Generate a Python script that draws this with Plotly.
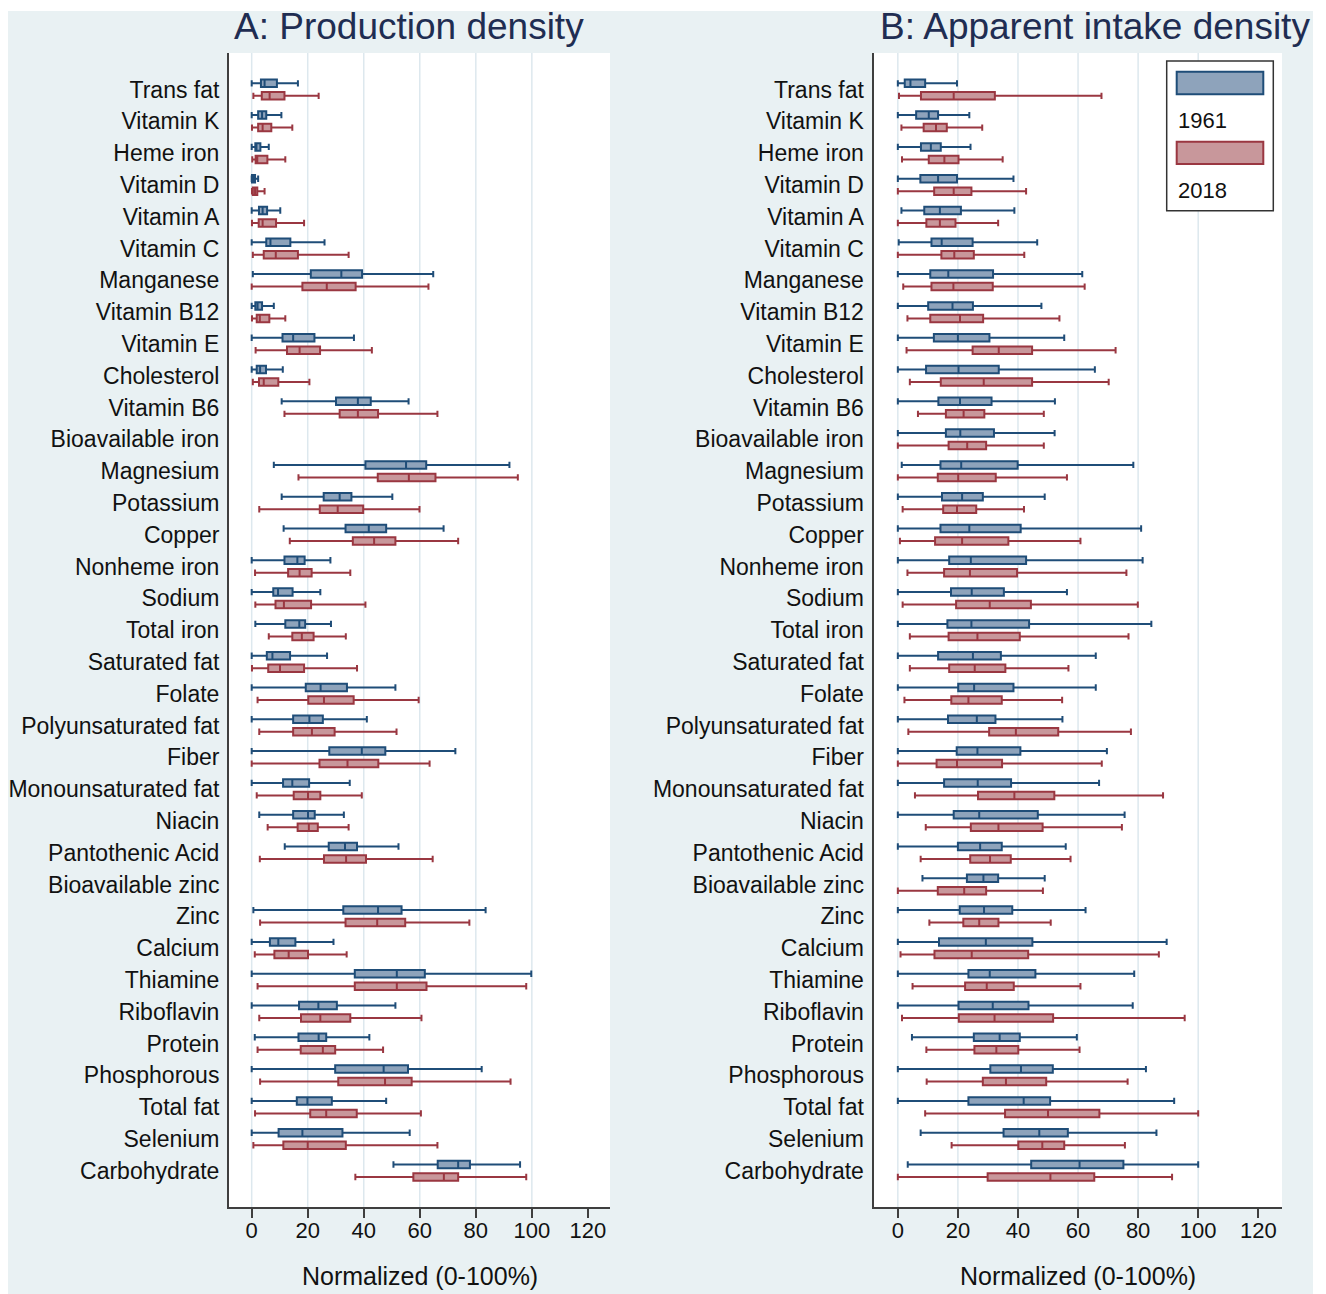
import plotly.graph_objects as go

W, H = 1326, 1294

nutrients = [
    "Trans fat", "Vitamin K", "Heme iron", "Vitamin D", "Vitamin A", "Vitamin C",
    "Manganese", "Vitamin B12", "Vitamin E", "Cholesterol", "Vitamin B6",
    "Bioavailable iron", "Magnesium", "Potassium", "Copper", "Nonheme iron",
    "Sodium", "Total iron", "Saturated fat", "Folate", "Polyunsaturated fat",
    "Fiber", "Monounsaturated fat", "Niacin", "Pantothenic Acid",
    "Bioavailable zinc", "Zinc", "Calcium", "Thiamine", "Riboflavin", "Protein",
    "Phosphorous", "Total fat", "Selenium", "Carbohydrate",
]

years = ["1961", "2018"]
x_ticks = [0, 20, 40, 60, 80, 100, 120]
grid_vals = [0, 20, 40, 60, 80, 100]

# Box summaries per nutrient: (lower whisker, q1, median, q3, upper whisker)
production_1961 = [
    (0, 3.3, 4.6, 9.0, 16.5), (0, 2.3, 3.7, 5.2, 10.6), (0, 1.3, 1.7, 3.1, 6.1),
    (0, 0.1, 0.6, 1.2, 2.3), (0, 2.6, 3.9, 5.5, 10.2), (0, 5.2, 6.7, 13.8, 26.0),
    (0.4, 21.1, 32.0, 39.4, 64.8), (0, 1.3, 2.1, 3.7, 7.9), (0, 11.0, 14.8, 22.4, 36.5),
    (0, 1.8, 3.0, 5.1, 11.1), (10.7, 30.1, 37.9, 42.5, 56.0), None,
    (7.9, 40.6, 55.1, 62.3, 92.0), (10.7, 25.7, 31.4, 35.6, 50.2),
    (11.4, 33.5, 41.8, 48.0, 68.5), (0, 11.7, 16.3, 18.9, 28.1),
    (0, 7.7, 9.4, 14.6, 24.5), (1.3, 12.0, 17.0, 19.1, 28.3),
    (0, 5.4, 7.4, 13.7, 26.9), (0, 19.3, 24.6, 34.0, 51.3),
    (0, 14.8, 20.6, 25.4, 41.1), (0, 27.7, 39.3, 47.7, 72.7),
    (0, 11.2, 14.5, 20.5, 35.0), (2.7, 14.8, 20.1, 22.5, 32.9),
    (11.8, 27.5, 33.3, 37.6, 52.4), None,
    (0.6, 32.7, 45.1, 53.5, 83.5), (0, 6.5, 9.5, 15.6, 29.2),
    (0, 36.8, 51.8, 61.8, 99.8), (0, 16.9, 23.8, 30.4, 51.3),
    (1.1, 16.7, 23.9, 26.6, 42.0), (0, 29.8, 47.1, 55.8, 82.1),
    (0, 16.1, 19.9, 28.6, 48.0), (0, 9.6, 18.1, 32.4, 56.4),
    (50.6, 66.4, 73.7, 77.9, 95.8),
]

production_2018 = [
    (0.6, 3.6, 6.4, 11.7, 23.9), (0.1, 2.3, 3.9, 7.0, 14.5), (0.2, 1.4, 2.0, 5.6, 12.0),
    (0.1, 0.4, 1.2, 2.0, 4.6), (0.1, 2.5, 3.9, 8.7, 18.7), (0.4, 4.3, 8.6, 16.5, 34.6),
    (0, 18.1, 26.8, 37.1, 63.1), (0.1, 1.8, 2.9, 6.3, 12.0), (1.4, 12.6, 17.1, 24.4, 42.9),
    (0.4, 2.6, 4.3, 9.5, 20.6), (11.7, 31.4, 37.9, 45.1, 66.3), None,
    (16.7, 45.0, 56.1, 65.6, 95.0), (2.7, 24.3, 30.7, 39.8, 59.9),
    (13.6, 36.1, 43.7, 51.3, 73.7), (1.2, 13.0, 17.1, 21.4, 35.2),
    (1.3, 8.5, 11.5, 21.2, 40.6), (6.1, 14.5, 17.9, 22.1, 33.6),
    (0.1, 5.9, 10.1, 18.7, 37.6), (2.1, 20.2, 25.8, 36.4, 59.6),
    (2.7, 14.8, 21.5, 29.6, 51.7), (0, 24.2, 34.2, 45.2, 63.5),
    (1.8, 15.0, 20.1, 24.5, 39.3), (5.7, 16.4, 20.4, 23.6, 34.6),
    (2.9, 25.8, 33.7, 40.8, 64.6), None,
    (3.0, 33.5, 44.8, 54.8, 77.7), (1.1, 8.1, 13.2, 20.1, 33.9),
    (2.1, 36.8, 51.8, 62.4, 98.0), (2.7, 17.6, 24.5, 35.2, 60.6),
    (2.1, 17.5, 25.4, 29.8, 46.9), (3.0, 30.9, 47.6, 57.1, 92.4),
    (1.2, 20.9, 26.6, 37.5, 60.4), (0.6, 11.3, 20.0, 33.6, 66.3),
    (37.0, 57.7, 68.6, 73.7, 98.0),
]

intake_1961 = [
    (0, 2.3, 4.2, 9.1, 19.7), (0, 6.1, 10.3, 13.4, 23.8), (0, 7.7, 11.0, 14.3, 24.2),
    (0, 7.5, 13.4, 19.7, 38.5), (1.2, 8.8, 14.0, 21.0, 38.8), (0.3, 11.2, 14.6, 24.9, 46.4),
    (0, 10.8, 16.8, 31.7, 61.4), (0, 10.1, 18.2, 25.0, 47.8), (0, 12.0, 20.0, 30.5, 55.4),
    (0, 9.4, 20.2, 33.6, 65.6), (0, 13.5, 20.7, 31.2, 52.3), (0, 16.0, 20.8, 32.0, 52.2),
    (1.3, 14.2, 21.1, 39.9, 78.4), (0, 14.7, 21.4, 28.3, 48.9),
    (0, 14.2, 23.8, 40.9, 81.0), (0, 17.1, 24.3, 42.7, 81.5),
    (0, 17.7, 24.6, 35.3, 56.3), (0, 16.5, 24.5, 43.7, 84.4),
    (0, 13.4, 25.0, 34.3, 65.9), (0, 20.1, 25.4, 38.5, 65.9),
    (0, 16.7, 26.3, 32.5, 54.8), (0, 19.6, 26.5, 40.8, 69.6),
    (0, 15.4, 26.6, 37.7, 67.0), (0, 18.6, 27.1, 46.6, 75.5),
    (0, 20.0, 27.4, 34.6, 55.9), (8.2, 23.0, 28.5, 33.4, 48.9),
    (0, 20.6, 28.7, 38.1, 62.5), (0, 13.7, 29.3, 44.8, 89.5),
    (0, 23.5, 30.6, 45.8, 78.7), (0, 20.2, 31.6, 43.5, 78.2),
    (4.7, 25.3, 33.9, 40.6, 59.6), (0, 30.8, 41.0, 51.6, 82.6),
    (0, 23.5, 41.9, 50.7, 92.0), (7.6, 35.2, 47.1, 56.6, 86.1),
    (3.3, 44.4, 60.5, 75.1, 100.0),
]

intake_2018 = [
    (0.4, 7.7, 18.6, 32.3, 67.8), (1.2, 8.6, 12.7, 16.3, 28.1), (1.4, 10.3, 15.5, 20.2, 34.9),
    (0, 12.1, 18.6, 24.5, 42.7), (0, 9.5, 14.0, 19.2, 33.4), (0, 14.5, 18.8, 25.3, 42.1),
    (1.8, 11.2, 18.5, 31.6, 62.2), (3.2, 10.8, 20.7, 28.4, 53.8), (2.9, 24.9, 33.6, 44.7, 72.5),
    (4.0, 14.3, 28.6, 44.7, 70.2), (6.7, 16.0, 21.9, 28.8, 48.6), (0, 16.9, 23.1, 29.4, 48.6),
    (0, 13.3, 20.1, 32.6, 56.3), (1.6, 15.1, 19.7, 26.1, 42.0),
    (0.7, 12.4, 21.4, 36.8, 60.8), (3.2, 15.4, 24.0, 39.7, 76.1),
    (1.6, 19.4, 30.6, 44.3, 79.9), (4.0, 16.9, 26.5, 40.6, 76.8),
    (4.0, 17.1, 25.6, 35.8, 56.8), (2.2, 17.8, 23.5, 34.6, 54.7),
    (3.5, 30.4, 39.3, 53.4, 77.6), (0, 12.9, 19.7, 34.7, 67.9),
    (5.7, 26.7, 38.8, 52.1, 88.3), (9.3, 24.3, 33.5, 48.2, 74.6),
    (7.6, 24.1, 30.7, 37.6, 57.5), (0, 13.3, 22.1, 29.4, 48.3),
    (10.5, 21.8, 27.1, 33.5, 50.9), (0.9, 12.2, 24.6, 43.4, 86.9),
    (4.9, 22.4, 29.6, 38.6, 60.8), (1.4, 20.3, 32.2, 51.7, 95.5),
    (9.5, 25.5, 32.8, 40.1, 60.5), (9.6, 28.3, 36.0, 49.4, 76.5),
    (9.1, 35.7, 50.0, 67.1, 100.0), (17.9, 40.1, 48.1, 55.4, 75.6),
    (0, 29.9, 50.8, 65.4, 91.3),
]

FONT = "Liberation Sans, Arial, Helvetica, sans-serif"
BG = "#e9f1f3"
GRID = "#dde8ee"
AXIS = "#3f3f3f"
TEXT = "#111111"
TITLE = "#1f2d52"
LINE_C = {"1961": "#1f4d78", "2018": "#9a3741"}
FILL_C = {"1961": "#8ea3bb", "2018": "#c8979b"}


def fx(px):
    return px / W


def fy(py):
    return 1 - py / H


fig = go.Figure()


def add_series(rows, year, panel, xa, ya):
    keep = [(n, r) for n, r in zip(nutrients, rows) if r is not None]
    fig.add_trace(go.Box(
        y=[n for n, _ in keep],
        lowerfence=[r[0] for _, r in keep],
        q1=[r[1] for _, r in keep],
        median=[r[2] for _, r in keep],
        q3=[r[3] for _, r in keep],
        upperfence=[r[4] for _, r in keep],
        orientation="h",
        name=year,
        alignmentgroup=panel,
        offsetgroup=year,
        xaxis=xa,
        yaxis=ya,
        line=dict(color=LINE_C[year], width=2),
        fillcolor=FILL_C[year],
        whiskerwidth=0.85,
        boxpoints=False,
        showlegend=False,
        hoverinfo="skip",
    ))


add_series(production_1961, "1961", "A", "x", "y")
add_series(production_2018, "2018", "A", "x", "y")
add_series(intake_1961, "1961", "B", "x2", "y2")
add_series(intake_2018, "2018", "B", "x2", "y2")

y_dom = [fy(1207), fy(53)]
panel_a = [fx(229), fx(610)]
panel_b = [fx(873.5), fx(1282)]

xcommon = dict(
    range=[-8.1, 127.9], tickvals=x_ticks, ticks="outside", ticklen=9,
    tickwidth=1.5, tickcolor=AXIS, showline=True, linecolor=AXIS, linewidth=2,
    showgrid=False, zeroline=False, ticklabelstandoff=-6,
    tickfont=dict(family=FONT, size=22, color=TEXT),
)
ycommon = dict(
    type="category", categoryorder="array", categoryarray=nutrients,
    range=[35.14, -1.15], showline=True, linecolor=AXIS, linewidth=2,
    ticks="", showgrid=False, zeroline=False, ticklabelstandoff=3,
    tickfont=dict(family=FONT, size=23, color=TEXT), domain=y_dom,
)

fig.update_layout(
    width=W, height=H, autosize=False,
    margin=dict(l=0, r=0, t=0, b=0),
    paper_bgcolor=BG, plot_bgcolor="white",
    boxmode="group", boxgap=0.214, boxgroupgap=0.4,
    xaxis=dict(domain=panel_a, anchor="y", **xcommon),
    yaxis=dict(anchor="x", **ycommon),
    xaxis2=dict(domain=panel_b, anchor="y2", **xcommon),
    yaxis2=dict(anchor="x2", **ycommon),
)

shapes = []
# white frame around the graph region
for x0, x1, y0, y1 in [(0, W, 0, 11), (0, 8, 0, H), (1313, W, 0, H)]:
    shapes.append(dict(type="rect", xref="paper", yref="paper",
                       x0=fx(x0), x1=fx(x1), y0=fy(y1), y1=fy(y0),
                       fillcolor="white", line=dict(width=0), layer="below"))
# vertical gridlines
for xr, yr in [("x", "y domain"), ("x2", "y2 domain")]:
    for v in grid_vals:
        shapes.append(dict(type="line", xref=xr, yref=yr, x0=v, x1=v, y0=0, y1=1,
                           line=dict(color=GRID, width=1.5), layer="below"))

# legend frame with swatches
shapes.append(dict(type="rect", xref="paper", yref="paper",
                   x0=fx(1166.7), x1=fx(1273.3), y0=fy(210.7), y1=fy(61),
                   fillcolor="white", line=dict(color="#333333", width=1.5)))
for year, top, bot in [("1961", 71.7, 94.3), ("2018", 141.7, 164)]:
    shapes.append(dict(type="rect", xref="paper", yref="paper",
                       x0=fx(1176.7), x1=fx(1263.3), y0=fy(bot), y1=fy(top),
                       fillcolor=FILL_C[year], line=dict(color=LINE_C[year], width=2)))

annotations = [
    dict(text="A: Production density", x=fx(408.5), y=fy(26), xref="paper", yref="paper",
         xanchor="center", yanchor="middle", showarrow=False,
         font=dict(family=FONT, size=37, color=TITLE)),
    dict(text="B: Apparent intake density", x=fx(1094.5), y=fy(26), xref="paper", yref="paper",
         xanchor="center", yanchor="middle", showarrow=False,
         font=dict(family=FONT, size=37, color=TITLE)),
    dict(text="Normalized (0-100%)", x=(panel_a[0] + panel_a[1]) / 2, y=fy(1276),
         xref="paper", yref="paper", xanchor="center", yanchor="middle", showarrow=False,
         font=dict(family=FONT, size=25, color=TEXT)),
    dict(text="Normalized (0-100%)", x=(panel_b[0] + panel_b[1]) / 2, y=fy(1276),
         xref="paper", yref="paper", xanchor="center", yanchor="middle", showarrow=False,
         font=dict(family=FONT, size=25, color=TEXT)),
]
for year, yc in [("1961", 120), ("2018", 190)]:
    annotations.append(dict(text=year, x=fx(1176), y=fy(yc), xref="paper", yref="paper",
                            xanchor="left", yanchor="middle", showarrow=False,
                            font=dict(family=FONT, size=22, color=TEXT)))

fig.update_layout(shapes=shapes, annotations=annotations)

fig.write_html("out.html")
